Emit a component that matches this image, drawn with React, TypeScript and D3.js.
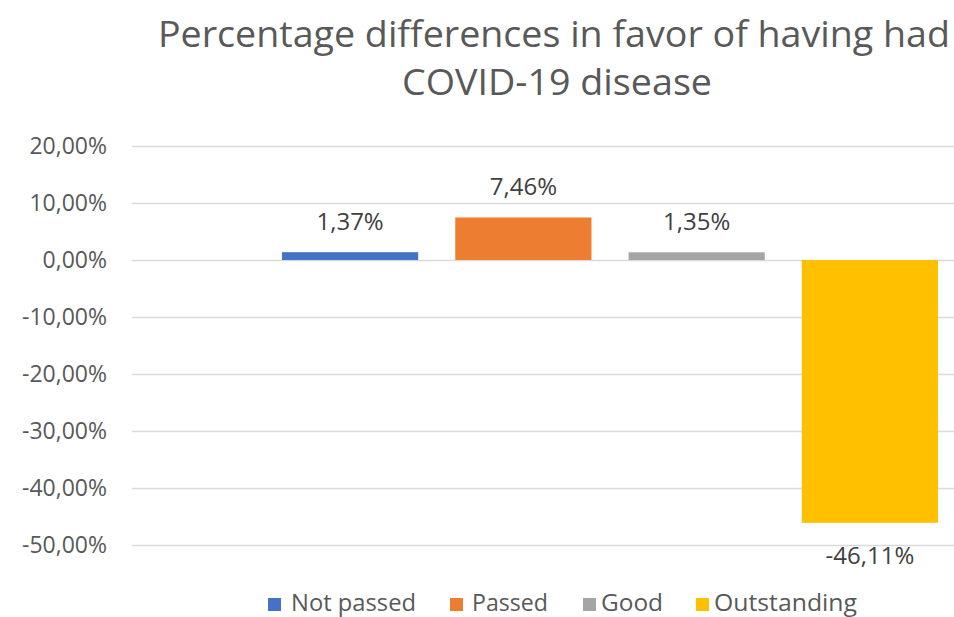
import { useRef, useEffect } from "react";
import { axisLeft, formatLocale, scaleBand, scaleLinear, select, ScaleLinear } from "d3";

// chart data (percent)
const series = ["Not passed", "Passed", "Good", "Outstanding"];
const values = [1.37, 7.46, 1.35, -46.11];
const colors = ["#4472C4", "#ED7D31", "#A5A5A5", "#FFC000"];
const yTicks = [20, 10, 0, -10, -20, -30, -40, -50];
const titleLines = ["Percentage differences in favor of having had", "COVID-19 disease"];

const FONT = "'Open Sans', 'Noto Sans', sans-serif";

const locale = formatLocale({
    decimal: ",",
    thousands: ".",
    grouping: [3],
    currency: ["", ""],
    minus: "-",
});
const pct = (v: number) => locale.format(".2%")(v / 100);

interface AxisLeftProps {
    scale: ScaleLinear<number, number, never>;
    x: number;
    width: number;
}

function AxisLeftGrid({ scale, x, width }: AxisLeftProps) {
    const ref = useRef<SVGGElement>(null);

    useEffect(() => {
        if (!ref.current) return;
        const g = select(ref.current);
        g.call(
            axisLeft(scale)
                .tickValues(yTicks)
                .tickSize(-width)
                .tickPadding(25)
                .tickFormat((d) => pct(+d))
        );
        g.select(".domain").remove();
        g.selectAll(".tick line").attr("stroke", "#D9D9D9").attr("stroke-width", 1.5);
        g.selectAll(".tick text")
            .attr("fill", "#595959")
            .attr("font-size", 23)
            .attr("font-family", FONT);
    }, [scale, x, width]);

    return <g ref={ref} transform={`translate(${x},0)`} />;
}

export default function App() {
    const W = 954;
    const H = 617;
    const plotLeft = 132;

    const scaleY = scaleLinear().domain([-50, 20]).range([545, 146]);
    const scaleX = scaleBand<string>()
        .domain(series)
        .range([282, 938])
        .paddingInner(0.214)
        .paddingOuter(0);

    // legend layout
    const legendSquareX = [268, 450, 583, 696];
    const legendTextX = [291, 472, 601, 714];
    const legendTextW = [125, 76, 62, 143];

    return (
        <svg
            width={W}
            height={H}
            style={{ position: "absolute", left: 0, top: 0, background: "#fff" }}
        >
            <text
                x={554}
                y={47}
                textAnchor="middle"
                fontSize={37}
                fontFamily={FONT}
                fill="#595959"
                textLength={792}
                lengthAdjust="spacingAndGlyphs"
            >
                {titleLines[0]}
            </text>
            <text
                x={557}
                y={95}
                textAnchor="middle"
                fontSize={37}
                fontFamily={FONT}
                fill="#595959"
                textLength={310}
                lengthAdjust="spacingAndGlyphs"
            >
                {titleLines[1]}
            </text>

            <AxisLeftGrid scale={scaleY} x={plotLeft} width={W - plotLeft} />

            {series.map((s, i) => {
                const v = values[i];
                const y0 = scaleY(0);
                const y1 = scaleY(v);
                const bx = scaleX(s) ?? 0;
                const bw = scaleX.bandwidth();
                return (
                    <g key={`bar-${s}`}>
                        <rect
                            x={bx}
                            y={Math.min(y0, y1)}
                            width={bw}
                            height={Math.abs(y1 - y0)}
                            fill={colors[i]}
                        />
                        <text
                            x={bx + bw / 2}
                            y={v >= 0 ? y1 - 22 : y1 + 41}
                            textAnchor="middle"
                            fontSize={24}
                            fontFamily={FONT}
                            fill="#404040"
                        >
                            {pct(v)}
                        </text>
                    </g>
                );
            })}

            {series.map((s, i) => (
                <g key={`legend-${s}`}>
                    <rect
                        x={legendSquareX[i]}
                        y={598}
                        width={13}
                        height={13}
                        fill={colors[i]}
                    />
                    <text
                        x={legendTextX[i]}
                        y={611}
                        fontSize={24}
                        fontFamily={FONT}
                        fill="#595959"
                        textLength={legendTextW[i]}
                        lengthAdjust="spacingAndGlyphs"
                    >
                        {s}
                    </text>
                </g>
            ))}
        </svg>
    );
}
